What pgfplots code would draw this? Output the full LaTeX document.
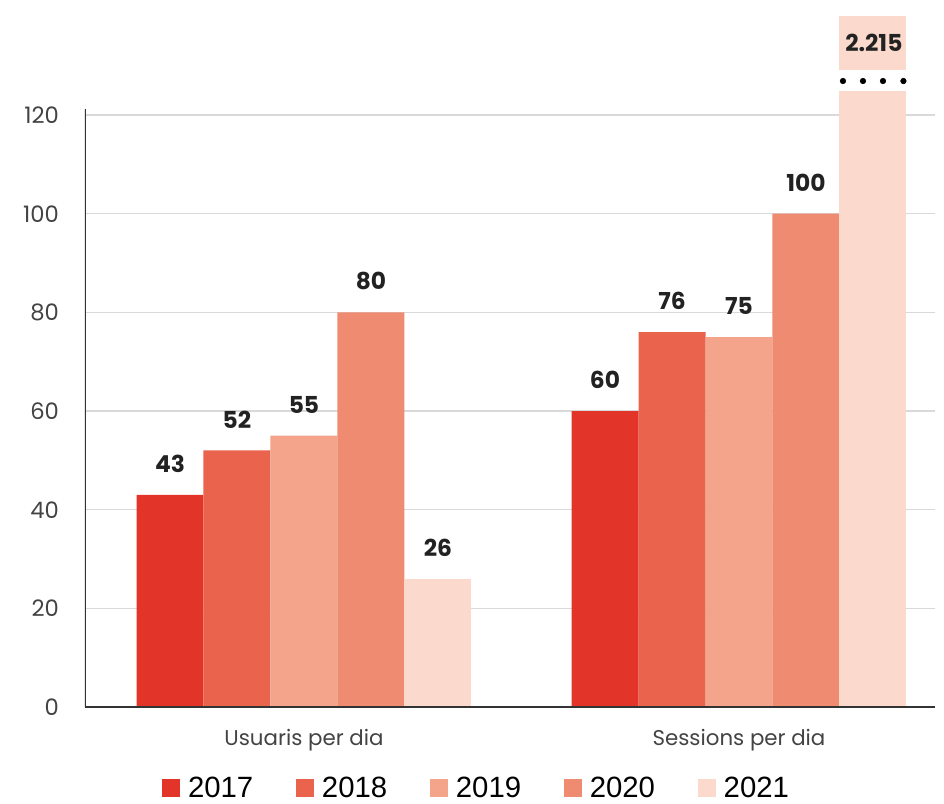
\documentclass[border=0pt]{standalone}
\usepackage{fontspec}
\setmainfont{Poppins}
\newfontfamily\legfont{Liberation Sans}
\usepackage{pgfplots}
\pgfplotsset{compat=1.18}
\definecolor{cA}{HTML}{E3342A}
\definecolor{cB}{HTML}{EA634C}
\definecolor{cC}{HTML}{F3A48B}
\definecolor{cD}{HTML}{EF8B70}
\definecolor{cE}{HTML}{FBD9CD}
\definecolor{txt}{HTML}{222222}
\begin{document}
\begin{tikzpicture}
\path[use as bounding box] (-63.75pt,-72pt) rectangle (644.25pt,530.25pt);
\begin{axis}[
  at={(0pt,0pt)}, anchor=south west,
  scale only axis, width=637.5pt, height=518.25pt,
  xmin=-0.5034, xmax=1.4506, ymin=0, ymax=140.08,
  axis line style={draw=none},
  ytick={0,20,40,60,80,100,120},
  xtick={0,1}, xticklabels={Usuaris per dia, Sessions per dia},
  major tick length=0pt,
  ymajorgrids, grid style={draw=black!15, line width=0.9pt},
  /pgf/number format/assume math mode=true,
  tick label style={font=\fontsize{17}{20}\selectfont, text=txt!85},
  yticklabel style={xshift=-16pt},
  xticklabel style={yshift=-13pt, font=\fontsize{16}{20}\selectfont},
  bar width=0.154,
  nodes near coords,
  every node near coord/.append style={font=\fontsize{17.5}{20}\selectfont\bfseries, text=txt, anchor=south, yshift=13pt},
  legend columns=-1,
  legend style={draw=none, fill=none, at={(0.461,-0.118)}, anchor=center,
    font=\legfont\fontsize{22}{24}\selectfont,
    /tikz/every odd column/.append style={column sep=4pt},
    /tikz/every even column/.append style={column sep=30pt}},
  legend image code/.code={\fill[#1] (0pt,-6.5pt) rectangle (13.5pt,7pt);},
]
\addplot[ybar, fill=cA, draw=none, bar shift=0] coordinates {(-0.308,43) (0.692,60)};
\addlegendentry{2017}
\addplot[ybar, fill=cB, draw=none, bar shift=0] coordinates {(-0.154,52) (0.846,76)};
\addlegendentry{2018}
\addplot[ybar, fill=cC, draw=none, bar shift=0] coordinates {(0,55) (1,75)};
\addlegendentry{2019}
\addplot[ybar, fill=cD, draw=none, bar shift=0] coordinates {(0.154,80) (1.154,100)};
\addlegendentry{2020}
\addplot[ybar, fill=cE, draw=none, bar shift=0] coordinates {(0.308,26)};
\addlegendentry{2021}
% broken bar: full height, white gap, lower part
\addplot[ybar, fill=cE, draw=none, bar shift=0, nodes near coords={}, forget plot] coordinates {(1.308,140.08)};
\addplot[ybar, fill=white, draw=none, bar shift=0, nodes near coords={}, forget plot] coordinates {(1.308,129.1)};
\addplot[ybar, fill=cE, draw=none, bar shift=0, nodes near coords={}, forget plot] coordinates {(1.308,124.9)};
\addplot[only marks, mark=*, mark size=2.1pt, black, nodes near coords={}, forget plot] coordinates {(1.239,126.9) (1.285,126.9) (1.331,126.9) (1.378,126.9)};
\node[font=\fontsize{17.5}{20}\selectfont\bfseries, text=txt] at (axis cs:1.31,134.6) {2.215};
\draw[line width=1.3pt, black!80] (axis cs:-0.5034,0) -- (axis cs:1.4506,0);
\draw[line width=1.3pt, black!80] (axis cs:-0.5034,0) -- (axis cs:-0.5034,121.2);
\end{axis}
\end{tikzpicture}
\end{document}
